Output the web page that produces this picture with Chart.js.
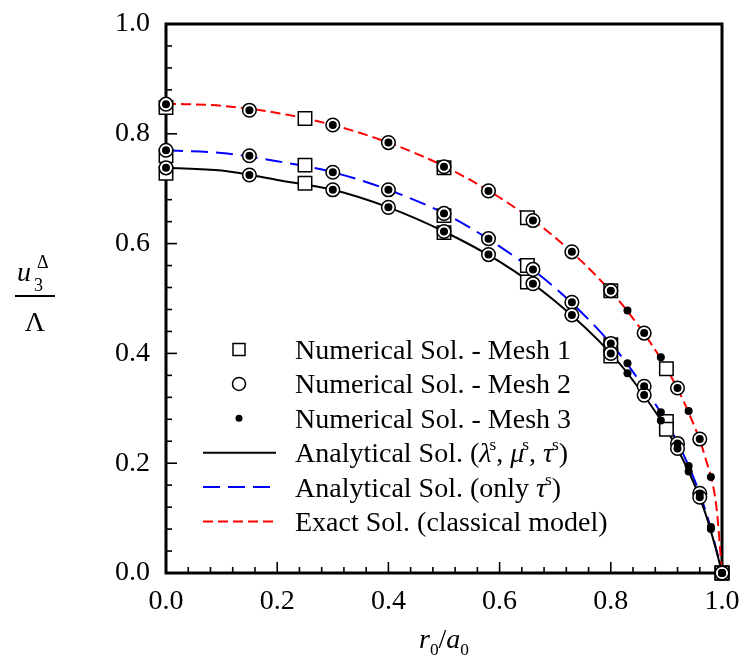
<!DOCTYPE html>
<html>
<head>
<meta charset="utf-8">
<script src="https://cdn.jsdelivr.net/npm/chart.js@4.4.0/dist/chart.umd.min.js"></script>
<style>
html, body { margin: 0; padding: 0; background: #fff; }
</style>
</head>
<body>
<canvas id="myChart" width="741" height="668"></canvas>
<script>
// numerical solutions
var xMesh1 = [0, 0.25, 0.5, 0.65, 0.8, 0.9, 1.0];
var mesh1Full  = [0.728, 0.710, 0.620, 0.530, 0.395, 0.262, 0];
var mesh1Only  = [0.760, 0.743, 0.651, 0.560, 0.416, 0.276, 0];
var mesh1Exact = [0.848, 0.828, 0.738, 0.647, 0.514, 0.372, 0];

var xMesh2 = [0, 0.15, 0.3, 0.4, 0.5, 0.58, 0.66, 0.73, 0.8, 0.86, 0.92, 0.96, 1.0];
var mesh2Full  = [0.738, 0.725, 0.698, 0.666, 0.622, 0.580, 0.527, 0.470, 0.400, 0.324, 0.227, 0.138, 0];
var mesh2Only  = [0.770, 0.760, 0.730, 0.698, 0.655, 0.609, 0.553, 0.493, 0.418, 0.340, 0.236, 0.145, 0];
var mesh2Exact = [0.854, 0.843, 0.816, 0.784, 0.740, 0.696, 0.642, 0.585, 0.514, 0.437, 0.337, 0.244, 0];

var xMesh3 = [0, 0.15, 0.3, 0.4, 0.5, 0.58, 0.66, 0.73, 0.8, 0.83, 0.86, 0.89, 0.92, 0.94, 0.96, 0.98, 1.0];
var mesh3Full  = [0.738, 0.725, 0.698, 0.666, 0.622, 0.580, 0.527, 0.470, 0.400, 0.364, 0.324, 0.278, 0.227, 0.185, 0.138, 0.080, 0];
var mesh3Only  = [0.770, 0.760, 0.730, 0.698, 0.655, 0.609, 0.553, 0.493, 0.418, 0.382, 0.340, 0.293, 0.236, 0.195, 0.145, 0.084, 0];
var mesh3Exact = [0.854, 0.843, 0.816, 0.784, 0.740, 0.696, 0.642, 0.585, 0.514, 0.478, 0.437, 0.393, 0.337, 0.295, 0.244, 0.175, 0];

// analytical / exact curves
var xCurve = [0, 0.1, 0.2, 0.3, 0.4, 0.5, 0.6, 0.7, 0.8, 0.85, 0.9, 0.94, 0.97, 0.99, 1.0];
var curveFull  = [0.738, 0.733, 0.716, 0.698, 0.666, 0.622, 0.567, 0.495, 0.400, 0.337, 0.262, 0.185, 0.109, 0.040, 0];
var curveOnly  = [0.770, 0.765, 0.750, 0.730, 0.698, 0.655, 0.595, 0.519, 0.418, 0.352, 0.275, 0.195, 0.115, 0.042, 0];
var curveExact = [0.855, 0.851, 0.838, 0.816, 0.784, 0.741, 0.684, 0.611, 0.513, 0.450, 0.373, 0.292, 0.210, 0.120, 0];

var xTicks = [0, 0.2, 0.4, 0.6, 0.8, 1.0];
var yTicks = [0, 0.2, 0.4, 0.6, 0.8, 1.0];

var SERIF = "'Liberation Serif', 'Times New Roman', serif";

function pts(xs, ys) {
	return xs.map(function (x, i) { return { x: x, y: ys[i] }; });
}

function squareSet(ys) {
	return { data: pts(xMesh1, ys), showLine: false, pointStyle: 'rect', pointRadius: 9.5,
		pointBackgroundColor: '#fff', pointBorderColor: '#000', pointBorderWidth: 1.5, order: 3, clip: false };
}
function circleSet(ys) {
	return { data: pts(xMesh2, ys), showLine: false, pointStyle: 'circle', pointRadius: 6.8,
		pointBackgroundColor: '#fff', pointBorderColor: '#000', pointBorderWidth: 1.5, order: 2, clip: false };
}
function dotSet(ys) {
	return { data: pts(xMesh3, ys), showLine: false, pointStyle: 'circle', pointRadius: 4,
		pointBackgroundColor: '#000', pointBorderColor: '#000', pointBorderWidth: 0, order: 1, clip: false };
}
function curveSet(ys, color, dash) {
	return { data: pts(xCurve, ys), showLine: true, pointRadius: 0, borderColor: color, borderWidth: 2,
		borderDash: dash, cubicInterpolationMode: 'monotone', fill: false, order: 4, clip: false };
}

// frame + inward ticks
var framePlugin = {
	id: 'frame',
	beforeDatasetsDraw: function (chart) {
		var ctx = chart.ctx, a = chart.chartArea;
		var xs = chart.scales.x, ys = chart.scales.y;
		ctx.save();
		ctx.strokeStyle = '#000';
		ctx.lineWidth = 1.6;
		for (var i = 1; i < 25; i++) {
			var len = (i % 5 == 0) ? 11 : 6;
			var px = xs.getPixelForValue(i * 0.04);
			ctx.beginPath(); ctx.moveTo(px, a.bottom); ctx.lineTo(px, a.bottom - len); ctx.stroke();
			var py = ys.getPixelForValue(i * 0.04);
			ctx.beginPath(); ctx.moveTo(a.left, py); ctx.lineTo(a.left + len, py); ctx.stroke();
		}
		ctx.lineWidth = 3;
		ctx.strokeRect(a.left, a.top, a.right - a.left, a.bottom - a.top);
		ctx.restore();
	}
};

function richText(ctx, x, y, parts, size) {
	var cx = x;
	parts.forEach(function (p) {
		var fs = p.s ? size * 0.62 : size;
		var dy = p.s == 'sup' ? -size * 0.42 : (p.s == 'sub' ? size * 0.24 : 0);
		ctx.font = (p.i ? 'italic ' : '') + fs + 'px ' + SERIF;
		ctx.fillText(p.t, cx, y + dy);
		cx += ctx.measureText(p.t).width + (p.k || 0);
	});
	return cx - x;
}
function richWidth(ctx, parts, size) {
	var w = 0;
	parts.forEach(function (p) {
		var fs = p.s ? size * 0.62 : size;
		ctx.font = (p.i ? 'italic ' : '') + fs + 'px ' + SERIF;
		w += ctx.measureText(p.t).width + (p.k || 0);
	});
	return w;
}

var legendRows = [
	{ mark: 'square', parts: [{ t: 'Numerical Sol. - Mesh 1' }] },
	{ mark: 'circle', parts: [{ t: 'Numerical Sol. - Mesh 2' }] },
	{ mark: 'dot', parts: [{ t: 'Numerical Sol. - Mesh 3' }] },
	{ mark: 'solid', parts: [{ t: 'Analytical Sol. (' }, { t: '\u03bb', i: 1, k: -2 }, { t: 's', s: 'sup' }, { t: ', ' },
		{ t: '\u03bc', i: 1, k: -2 }, { t: 's', s: 'sup' }, { t: ', ' }, { t: '\u03c4', i: 1, k: -1 }, { t: 's', s: 'sup' }, { t: ')' }] },
	{ mark: 'blue', parts: [{ t: 'Analytical Sol. (only ' }, { t: '\u03c4', i: 1, k: -1 }, { t: 's', s: 'sup' }, { t: ')' }] },
	{ mark: 'red', parts: [{ t: 'Exact Sol. (classical model)' }] }
];

var labelPlugin = {
	id: 'labels',
	afterDraw: function (chart) {
		var ctx = chart.ctx;
		ctx.save();
		ctx.fillStyle = '#000';
		ctx.textBaseline = 'alphabetic';
		ctx.textAlign = 'left';

		// legend
		legendRows.forEach(function (row, i) {
			var base = 359 + i * 34.4, cy = base - 9.5;
			ctx.strokeStyle = '#000';
			ctx.lineWidth = 1.5;
			ctx.setLineDash([]);
			if (row.mark == 'square') {
				ctx.strokeRect(233, cy - 6, 12, 12);
			} else if (row.mark == 'circle') {
				ctx.beginPath(); ctx.arc(239, cy, 6.5, 0, Math.PI * 2); ctx.stroke();
			} else if (row.mark == 'dot') {
				ctx.beginPath(); ctx.arc(239, cy, 3.5, 0, Math.PI * 2); ctx.fill();
			} else {
				ctx.lineWidth = 2;
				if (row.mark == 'blue') { ctx.strokeStyle = '#0000ff'; ctx.setLineDash([17, 8]); }
				if (row.mark == 'red') { ctx.strokeStyle = '#ff0000'; ctx.setLineDash([10, 5]); }
				ctx.beginPath(); ctx.moveTo(203, cy); ctx.lineTo(276, cy); ctx.stroke();
				ctx.setLineDash([]);
			}
			richText(ctx, 295, base, row.parts, 28);
		});

		// x title: r0/a0
		var xParts = [{ t: 'r', i: 1 }, { t: '0', s: 'sub' }, { t: '/' }, { t: 'a', i: 1 }, { t: '0', s: 'sub' }];
		var w = richWidth(ctx, xParts, 28);
		richText(ctx, 444 - w / 2, 648, xParts, 28);

		// y title: u3^Δ / Λ
		ctx.font = 'italic 28px ' + SERIF;
		ctx.fillText('u', 17, 281);
		ctx.font = '18px ' + SERIF;
		ctx.fillText('3', 34, 291);
		ctx.fillText('\u0394', 37, 268);
		ctx.lineWidth = 2;
		ctx.strokeStyle = '#000';
		ctx.beginPath(); ctx.moveTo(15, 296); ctx.lineTo(55, 296); ctx.stroke();
		ctx.font = '28px ' + SERIF;
		ctx.textAlign = 'center';
		ctx.fillText('\u039b', 35, 331);
		ctx.restore();
	}
};

var ctx = document.getElementById('myChart').getContext('2d');
var myChart = new Chart(ctx, {
	type: 'scatter',
	data: {
		datasets: [
			curveSet(curveFull, '#000000', []),
			curveSet(curveOnly, '#0000ff', [17, 8]),
			curveSet(curveExact, '#ff0000', [10, 5]),
			squareSet(mesh1Full), squareSet(mesh1Only), squareSet(mesh1Exact),
			circleSet(mesh2Full), circleSet(mesh2Only), circleSet(mesh2Exact),
			dotSet(mesh3Full), dotSet(mesh3Only), dotSet(mesh3Exact)
		]
	},
	options: {
		responsive: false,
		animation: false,
		layout: { padding: { top: 24, right: 19, left: 0, bottom: 0 } },
		plugins: { legend: { display: false }, tooltip: { enabled: false } },
		scales: {
			x: {
				type: 'linear', min: 0, max: 1,
				afterBuildTicks: function (s) { s.ticks = xTicks.map(function (v) { return { value: v }; }); },
				afterFit: function (s) { s.height = 95; s.paddingLeft = 0; s.paddingRight = 0; },
				ticks: { color: '#000', padding: 12, maxRotation: 0, autoSkip: false,
					font: { family: SERIF, size: 28 },
					callback: function (v) { return Number(v).toFixed(1); } },
				grid: { display: false, drawTicks: false },
				border: { display: false }
			},
			y: {
				type: 'linear', min: 0, max: 1,
				afterBuildTicks: function (s) { s.ticks = yTicks.map(function (v) { return { value: v }; }); },
				afterFit: function (s) { s.width = 166; s.paddingTop = 0; s.paddingBottom = 0; },
				ticks: { color: '#000', padding: 16, autoSkip: false,
					font: { family: SERIF, size: 28 },
					callback: function (v) { return Number(v).toFixed(1); } },
				grid: { display: false, drawTicks: false },
				border: { display: false }
			}
		}
	},
	plugins: [framePlugin, labelPlugin]
});
</script>
</body>
</html>
